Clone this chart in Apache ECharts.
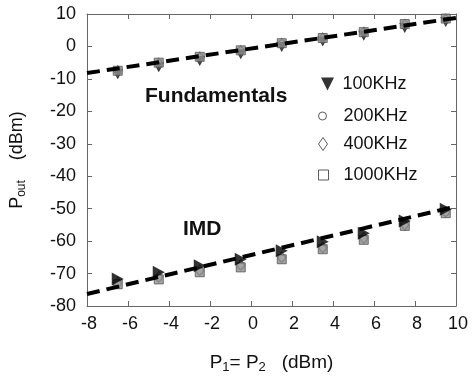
<!DOCTYPE html>
<html>
<head>
<meta charset="utf-8">
<script src="https://cdn.jsdelivr.net/npm/echarts@6/dist/echarts.min.js"></script>
<style>html,body{margin:0;padding:0;background:#fff;}#c{width:472px;height:379px;}</style>
</head>
<body>
<div id="c"></div>
<script>
// ---- data ----
var xTicks = [-8, 10, 2];          // min, max, interval of P1 axis
var yTicks = [-80, 10, 10];        // min, max, interval of Pout axis
var pin = [-6.5, -4.5, -2.5, -0.5, 1.5, 3.5, 5.5, 7.5, 9.5];
var fund100  = [-8.6, -6.4, -4.5, -2.4, -0.2, 1.5, 3.3, 5.7, 7.5];
var fund200  = [-7.4, -5.1, -3.3, -1.3, 0.9, 2.6, 4.5, 6.8, 8.5];
var fund400  = [-7.6, -5.3, -3.4, -1.4, 0.8, 2.5, 4.3, 6.7, 8.3];
var fund1000 = [-7.5, -5.0, -3.2, -1.2, 1.0, 2.6, 4.4, 6.9, 8.6];
var imd100  = [-71.7, -69.6, -67.6, -65.6, -63.0, -60.2, -57.6, -53.8, -50.2];
var imd200  = [-73.0, -71.3, -69.2, -67.6, -65.2, -62.2, -59.3, -55.0, -51.2];
var imd400  = [-72.8, -71.0, -69.0, -67.3, -65.0, -62.0, -59.0, -55.0, -51.0];
var imd1000 = [-73.3, -71.8, -69.6, -68.1, -65.6, -62.5, -59.6, -55.3, -51.4];
var lineX = [-8, 10];
var fundLine = [-8.2, 8.8];
var imdLine = [-76.3, -49.3];
var names = ['100KHz', '200KHz', '400KHz', '1000KHz'];

function pts(xs, ys) { return xs.map(function (x, i) { return [x, ys[i]]; }); }

var FONT = 'Liberation Sans';
var axisCol = '#666';
var downTri = 'path://M0,0 L10,0 L5,10 Z';

function xAx(pos, show) {
  return {
    type: 'value', position: pos, min: xTicks[0], max: xTicks[1], interval: xTicks[2],
    axisLine: { show: true, onZero: false, lineStyle: { color: axisCol, width: 1 } },
    axisTick: { show: true, inside: true, length: 5, lineStyle: { color: axisCol } },
    axisLabel: { show: show, margin: 9, color: '#111', fontSize: 18, fontFamily: FONT, padding: [0, 0, 0, 4] },
    splitLine: { show: false }
  };
}
function yAx(pos, show) {
  return {
    type: 'value', position: pos, min: yTicks[0], max: yTicks[1], interval: yTicks[2],
    axisLine: { show: true, onZero: false, lineStyle: { color: axisCol, width: 1 } },
    axisTick: { show: true, inside: true, length: 5, lineStyle: { color: axisCol } },
    axisLabel: { show: show, margin: 11, color: '#111', fontSize: 18, fontFamily: FONT },
    splitLine: { show: false }
  };
}

var xa = [xAx('bottom', true), xAx('top', false)];
xa[0].name = '{a|P}{s|1}{a|= P}{s|2}{a|   (dBm)}';
xa[0].nameLocation = 'middle';
xa[0].nameGap = 45;
xa[0].nameTextStyle = { fontFamily: FONT, color: '#111', rich: {
  a: { fontSize: 19, fontFamily: FONT, color: '#111' },
  s: { fontSize: 13, fontFamily: FONT, color: '#111', padding: [10, 0, 0, 0] } } };
var ya = [yAx('left', true), yAx('right', false)];
ya[0].name = '{a|P}{s|out}{a|    (dBm)}';
ya[0].nameLocation = 'middle';
ya[0].nameGap = 59;
ya[0].nameTextStyle = { fontFamily: FONT, color: '#111', rich: {
  a: { fontSize: 18, fontFamily: FONT, color: '#111' },
  s: { fontSize: 12, fontFamily: FONT, color: '#111', padding: [10, 0, 0, 0] } } };

function sc(name, data, symbol, size, style, rot, z) {
  return { type: 'scatter', name: name, data: data, symbol: symbol, symbolSize: size,
    symbolRotate: rot || 0, itemStyle: style, z: z || 2, silent: true };
}
var sqStyle = { color: '#8f8f8f', borderColor: '#555', borderWidth: 1 };
var ciStyle = { color: 'rgba(255,255,255,0)', borderColor: '#555', borderWidth: 1 };
var diStyle = { color: 'rgba(255,255,255,0)', borderColor: '#555', borderWidth: 1 };
var trStyle = { color: '#000', borderColor: '#000', borderWidth: 0 };

var series = [
  sc(names[0], pts(pin, fund100), downTri, [11, 10], trStyle, 0, 2),
  sc(names[1], pts(pin, fund200), 'circle', 7, ciStyle, 0, 3),
  sc(names[2], pts(pin, fund400), 'diamond', [8, 11], diStyle, 0, 3),
  sc(names[3], pts(pin, fund1000), 'rect', 9, sqStyle, 0, 3),
  sc(names[1], pts(pin, imd200), 'circle', 7, ciStyle, 0, 3),
  sc(names[2], pts(pin, imd400), 'diamond', [8, 11], diStyle, 0, 3),
  sc(names[3], pts(pin, imd1000), 'rect', 9, sqStyle, 0, 3),
  sc(names[0], pts(pin, imd100), 'triangle', [13, 12], trStyle, -90, 5),
  { type: 'line', name: 'fit1', data: pts(lineX, fundLine), symbol: 'none', z: 4, silent: true,
    lineStyle: { color: '#000', width: 4, type: [13, 7] } },
  { type: 'line', name: 'fit2', data: pts(lineX, imdLine), symbol: 'none', z: 4, silent: true,
    lineStyle: { color: '#000', width: 4, type: [13, 7] } }
];

function lg(name, icon, w, h, left, top, pad, style) {
  return { show: true, orient: 'vertical', left: left, top: top, padding: 0, selectedMode: false,
    itemWidth: w, itemHeight: h,
    data: [{ name: name, icon: icon, itemStyle: style }],
    textStyle: { fontFamily: FONT, fontSize: 18, color: '#111', padding: [0, 0, 0, pad] } };
}
var hollow = { color: '#fff', borderColor: '#333', borderWidth: 1 };

var option = {
  animation: false,
  backgroundColor: '#fff',
  grid: { left: 86, right: 16, top: 14, bottom: 72, containLabel: false },
  xAxis: xa,
  yAxis: ya,
  legend: [
    lg(names[0], downTri, 14, 13, 321, 75, 3, { color: '#000', borderWidth: 0 }),
    lg(names[1], 'circle', 8, 8, 318, 107, 12, hollow),
    lg(names[2], 'diamond', 9, 13, 318, 135, 11, hollow),
    lg(names[3], 'rect', 10, 10, 318, 166, 10, hollow)
  ],
  graphic: [
    { type: 'text', left: 145, top: 86, style: { text: 'Fundamentals', fontFamily: FONT, fontWeight: 'bold', fontSize: 21, fill: '#111' } },
    { type: 'text', left: 183, top: 219, style: { text: 'IMD', fontFamily: FONT, fontWeight: 'bold', fontSize: 21, fill: '#111' } }
  ],
  series: series
};
var chart = echarts.init(document.getElementById('c'), null, { renderer: 'canvas' });
chart.setOption(option);
</script>
</body>
</html>
